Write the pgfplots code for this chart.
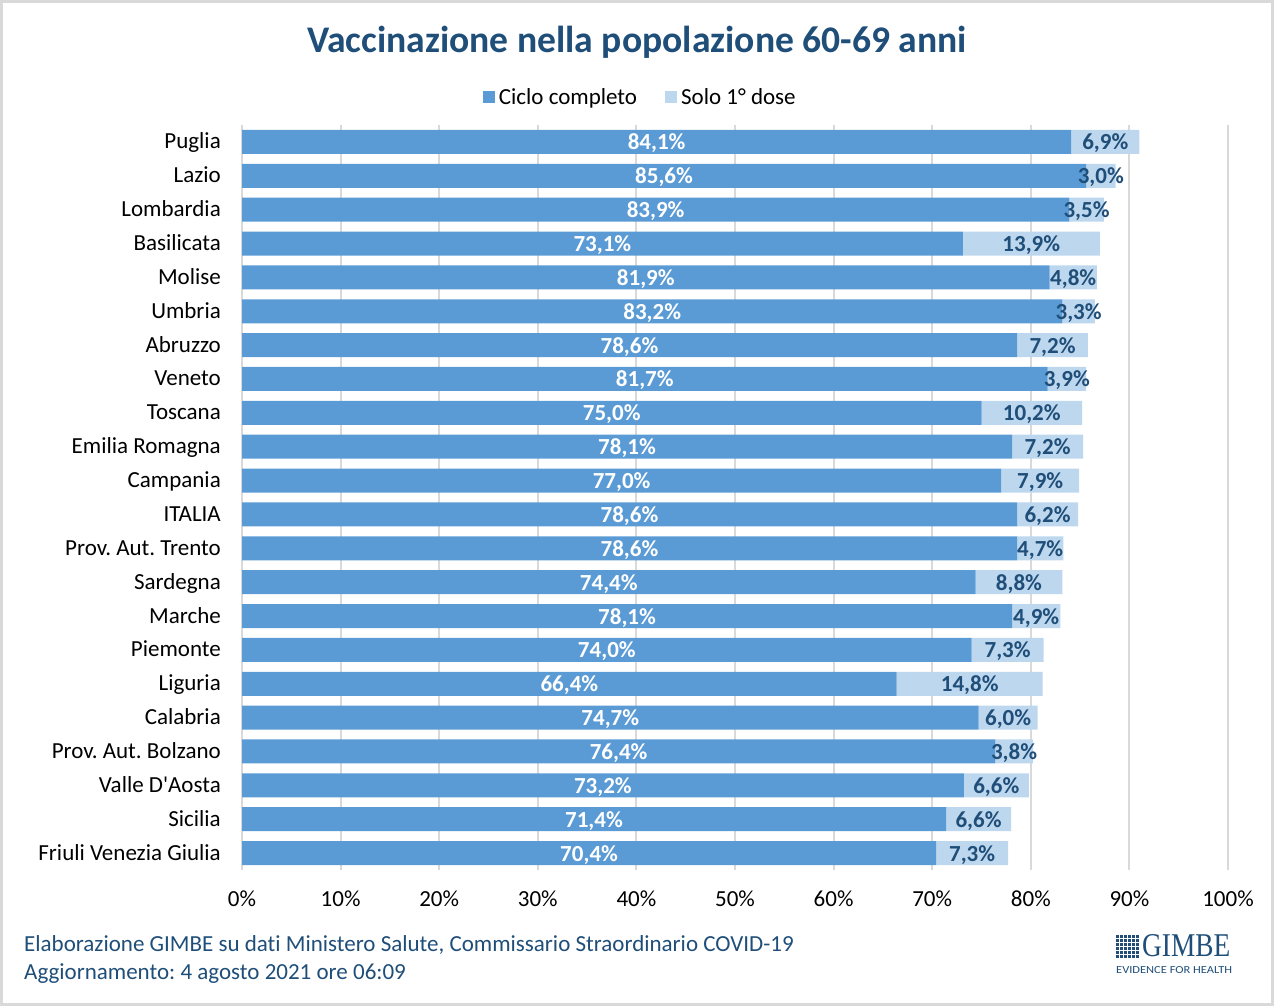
\documentclass[border=0pt]{standalone}
\usepackage{pgfplots}
\pgfplotsset{compat=1.18}
\usepackage{pgfplotstable}
\usepackage{graphicx}
\usepackage{fontspec}
\defaultfontfeatures{}
\setmainfont{Carlito}[Ligatures={ResetAll,NoCommon}]
\newfontfamily\apos{Carlito}
\newfontfamily\logofont{Liberation Serif}
\frenchspacing
\definecolor{dark}{RGB}{91,155,213}
\definecolor{light}{RGB}{189,215,238}
\definecolor{navy}{RGB}{31,78,121}
\definecolor{gridc}{RGB}{217,217,217}
\newcommand\fs{\fontsize{23pt}{27pt}\selectfont}

\pgfplotstableread[col sep=comma]{
idx,name,a,b
0,Friuli Venezia Giulia,70.4,7.3
1,Sicilia,71.4,6.6
2,Valle D{\apos'}Aosta,73.2,6.6
3,Prov. Aut. Bolzano,76.4,3.8
4,Calabria,74.7,6.0
5,Liguria,66.4,14.8
6,Piemonte,74.0,7.3
7,Marche,78.1,4.9
8,Sardegna,74.4,8.8
9,Prov. Aut. Trento,78.6,4.7
10,ITALIA,78.6,6.2
11,Campania,77.0,7.9
12,Emilia Romagna,78.1,7.2
13,Toscana,75.0,10.2
14,Veneto,81.7,3.9
15,Abruzzo,78.6,7.2
16,Umbria,83.2,3.3
17,Molise,81.9,4.8
18,Basilicata,73.1,13.9
19,Lombardia,83.9,3.5
20,Lazio,85.6,3.0
21,Puglia,84.1,6.9
}\data

\pgfplotsset{
  /pgf/number format/assume math mode=true,
  common/.style={
    at={(242pt,-125pt)}, anchor=north west,
    scale only axis, width=986pt, height=745pt,
    xmin=0, xmax=100, ymin=-0.5, ymax=21.5,
  },
  sqlegend/.style={legend image code/.code={\fill[##1] (0pt,-6pt) rectangle (12pt,6pt);}},
}

\begin{document}
\begin{tikzpicture}
\path[use as bounding box] (0pt,0pt) rectangle (1274pt,-1006pt);
\draw[gridc, line width=3pt] (1.5pt,-1.5pt) rectangle (1272.5pt,-1004.5pt);

\node[anchor=base, inner sep=0pt, text=navy, font=\fontsize{37.6pt}{42pt}\selectfont\bfseries] at (637pt,-53pt) {Vaccinazione nella popolazione 60-69 anni};

\begin{axis}[common,
  xbar stacked, bar width=24pt,
  xtick={0,10,...,100}, ytick={0,...,21},
  yticklabels from table={\data}{name},
  xticklabel={\pgfmathprintnumber[assume math mode=true]{\tick}\%},
  major tick length=0pt,
  xmajorgrids, major grid style={gridc, line width=2pt},
  axis x line*=bottom, axis y line*=left,
  x axis line style={draw=none},
  y axis line style={draw=gridc, line width=2pt},
  tick label style={font=\fs, text=black},
  xticklabel style={inner sep=0pt, anchor=base, yshift=-36pt},
  yticklabel style={inner sep=0pt, anchor=base east, xshift=-21pt, yshift=-7pt},
  legend style={at={(0.405,1.0376)}, anchor=center, draw=none, fill=none,
    legend columns=2, font=\fs,
    /tikz/every even column/.append style={column sep=24pt},
    nodes={inner sep=4pt}},
]
\addplot[fill=dark, draw=none, sqlegend] table[x=a, y=idx]{\data};
\addplot[fill=light, draw=none, sqlegend] table[x=b, y=idx]{\data};
\legend{Ciclo completo, Solo 1° dose}
\end{axis}

\begin{axis}[common, hide axis]
\addplot[only marks, mark=none, point meta=explicit,
  nodes near coords={\pgfmathprintnumber[fixed, fixed zerofill, precision=1, use comma, assume math mode=true]{\pgfplotspointmeta}\%},
  nodes near coords style={anchor=base, yshift=-8pt, inner sep=0pt, text=white, font=\fs\bfseries}]
  table[x expr=\thisrow{a}/2, y=idx, meta=a]{\data};
\addplot[only marks, mark=none, point meta=explicit,
  nodes near coords={\pgfmathprintnumber[fixed, fixed zerofill, precision=1, use comma, assume math mode=true]{\pgfplotspointmeta}\%},
  nodes near coords style={anchor=base, yshift=-8pt, inner sep=0pt, text=navy, font=\fs\bfseries}]
  table[x expr=\thisrow{a}+\thisrow{b}/2, y=idx, meta=b]{\data};
\end{axis}

\node[anchor=base west, inner sep=0pt, text=navy, font=\fs] at (24pt,-951pt) {Elaborazione GIMBE su dati Ministero Salute, Commissario Straordinario COVID-19};
\node[anchor=base west, inner sep=0pt, text=navy, font=\fs] at (24pt,-979pt) {Aggiornamento: 4 agosto 2021 ore 06:09};

% logo
\foreach \i in {0,...,5}{\foreach \j in {0,...,5}{
  \fill[navy] (1116pt+\i*4pt,-935pt-\j*4pt) rectangle ++(3pt,-3pt);}}
\node[anchor=south west, inner sep=0pt, text=navy] at (1142pt,-957pt) {\resizebox{88pt}{22pt}{\logofont GIMBE}};
\node[anchor=south west, inner sep=0pt, text=navy] at (1116pt,-974pt) {\resizebox{116pt}{7pt}{EVIDENCE FOR HEALTH}};
\end{tikzpicture}
\end{document}
